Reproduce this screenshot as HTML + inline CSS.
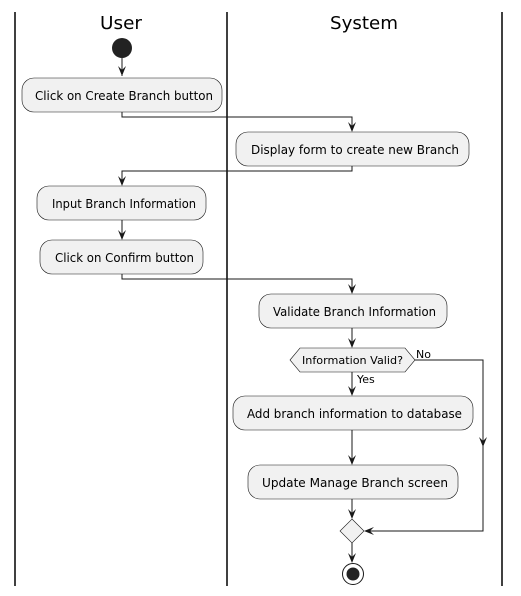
<!DOCTYPE html>
<html><head><meta charset="utf-8"><style>
html,body{margin:0;padding:0;background:#fff;}
svg{display:block;}
text{font-family:"DejaVu Sans","Liberation Sans",sans-serif;fill:#000;}
</style></head><body>
<svg width="521" height="596" viewBox="0 0 521 596" xmlns="http://www.w3.org/2000/svg">
<g stroke="#000" stroke-width="1.5">
<line x1="15" y1="12" x2="15" y2="586"/>
<line x1="227" y1="12" x2="227" y2="586"/>
<line x1="502" y1="12" x2="502" y2="586"/>
</g>
<text x="100" y="29" font-size="18" textLength="42" lengthAdjust="spacingAndGlyphs">User</text>
<text x="330" y="29" font-size="18" textLength="68" lengthAdjust="spacingAndGlyphs">System</text>
<circle cx="122" cy="48" r="10" fill="#222"/>
<g fill="none" stroke="#181818" stroke-width="1">
<line x1="122" y1="58" x2="122" y2="76"/>
<polyline points="122,112 122,117 352,117 352,130"/>
<polyline points="352,166 352,171 122,171 122,184"/>
<line x1="122" y1="220" x2="122" y2="238"/>
<polyline points="122,274 122,279 352,279 352,292"/>
<line x1="352" y1="328" x2="352" y2="346"/>
<line x1="352" y1="372" x2="352" y2="394"/>
<line x1="352" y1="430" x2="352" y2="463"/>
<line x1="352" y1="499" x2="352" y2="517"/>
<polyline points="415,360 483,360 483,531 366,531"/>
<line x1="352" y1="543" x2="352" y2="561"/>
</g>
<g fill="#181818">
<polygon points="118,66 122,76 126,66 122,70"/>
<polygon points="348,122 352,132 356,122 352,126"/>
<polygon points="118,176 122,186 126,176 122,180"/>
<polygon points="118,230 122,240 126,230 122,234"/>
<polygon points="348,284 352,294 356,284 352,288"/>
<polygon points="348,338 352,348 356,338 352,342"/>
<polygon points="348,386 352,396 356,386 352,390"/>
<polygon points="348,455 352,465 356,455 352,459"/>
<polygon points="348,509 352,519 356,509 352,513"/>
<polygon points="348,553 352,563 356,553 352,557"/>
<polygon points="479,437 483,447 487,437 483,441"/>
<polygon points="374,527 364,531 374,535 370,531"/>
</g>
<g fill="#f1f1f1" stroke="#181818" stroke-width="0.6">
<rect x="22" y="78" width="200" height="34" rx="12"/>
<rect x="236" y="132" width="233" height="34" rx="12"/>
<rect x="37" y="186" width="169" height="34" rx="12"/>
<rect x="40" y="240" width="163" height="34" rx="12"/>
<rect x="259" y="294" width="188" height="34" rx="12"/>
<polygon points="290,360 300,348 405,348 415,360 405,372 300,372"/>
<rect x="233" y="396" width="240" height="34" rx="12"/>
<rect x="248" y="465" width="210" height="34" rx="12"/>
<polygon points="352,519 364,531 352,543 340,531"/>
</g>
<g font-size="12" lengthAdjust="spacingAndGlyphs">
<text x="35" y="100" textLength="178" lengthAdjust="spacingAndGlyphs">Click on Create Branch button</text>
<text x="251" y="154" textLength="208" lengthAdjust="spacingAndGlyphs">Display form to create new Branch</text>
<text x="52" y="208" textLength="144" lengthAdjust="spacingAndGlyphs">Input Branch Information</text>
<text x="55" y="262" textLength="139" lengthAdjust="spacingAndGlyphs">Click on Confirm button</text>
<text x="273" y="316" textLength="163" lengthAdjust="spacingAndGlyphs">Validate Branch Information</text>
<text x="247" y="418" textLength="215" lengthAdjust="spacingAndGlyphs">Add branch information to database</text>
<text x="262" y="487" textLength="186" lengthAdjust="spacingAndGlyphs">Update Manage Branch screen</text>
<text x="302" y="364" font-size="11" textLength="101" lengthAdjust="spacingAndGlyphs">Information Valid?</text>
</g>
<text x="416" y="358" font-size="11">No</text>
<text x="357" y="383" font-size="11">Yes</text>
<circle cx="353" cy="574" r="10.5" fill="none" stroke="#181818" stroke-width="1"/>
<circle cx="353" cy="574" r="6.5" fill="#222"/>
</svg>
</body></html>
